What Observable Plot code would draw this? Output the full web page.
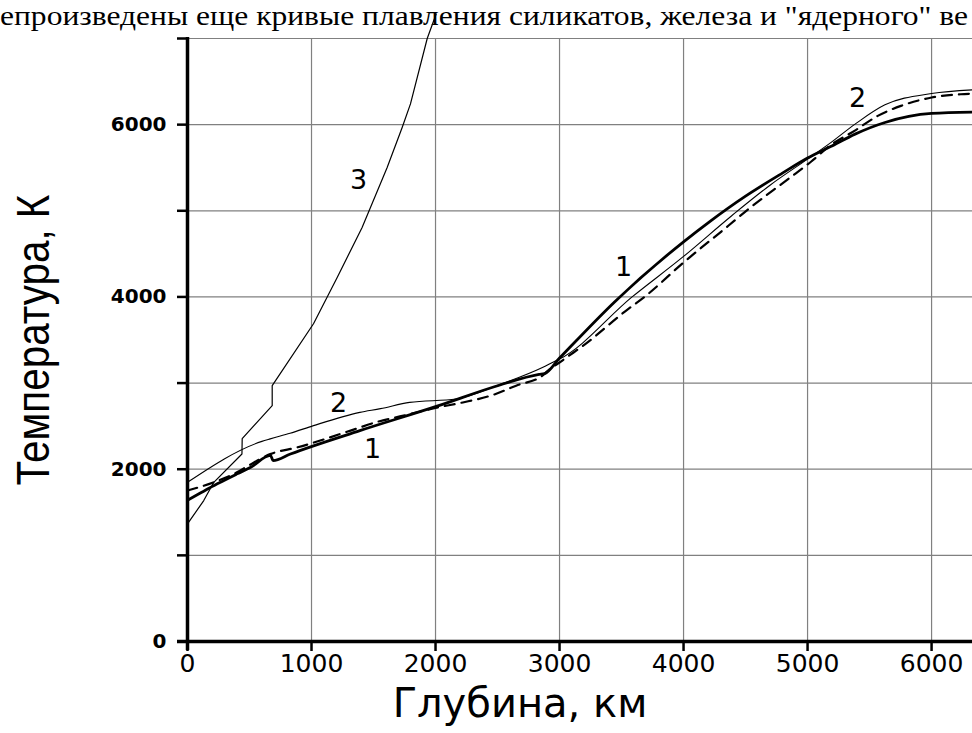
<!DOCTYPE html>
<html><head><meta charset="utf-8">
<script src="https://cdn.jsdelivr.net/npm/d3@7"></script>
<script src="https://cdn.jsdelivr.net/npm/@observablehq/plot@0.6"></script>
<style>
body{margin:0;background:#fff;}
#chart{width:972px;height:733px;overflow:hidden;}
</style></head><body><div id="chart"></div>
<script>
// Depth (km), temperature (K)
const curve1 = [[0,1640],[100,1720],[240,1830],[400,1946],[510,2023],[670,2160],[690,2100],[830,2177],[1390,2448],[2000,2726],[2514,2975],[2835,3100],[2880,3110],[3000,3290],[3450,3951],[4000,4640],[4214,4878],[4500,5170],[4800,5440],[5000,5612],[5182,5742],[5383,5890],[5624,6025],[6000,6130],[6330,6145]];
const curve2 = [[0,1848],[600,2323],[667,2352],[827,2417],[1016,2506],[1390,2660],[1556,2703],[1791,2776],[2166,2815],[2514,2981],[2862,3182],[2970,3260],[3000,3280],[3585,4000],[4000,4470],[4386,4940],[4700,5300],[5000,5600],[5190,5794],[5383,6006],[5624,6230],[6000,6361],[6330,6404]];
const curveDashed = [[0,1752],[212,1848],[399,1964],[493,2042],[667,2175],[887,2254],[1315,2448],[1523,2547],[1742,2622],[2000,2712],[2220,2775],[2462,2862],[2650,2970],[2862,3086],[2880,3110],[3040,3280],[3210,3455],[3532,3836],[3693,4010],[4000,4400],[4361,4826],[4506,5000],[4843,5368],[5030,5572],[5178,5754],[5378,5928],[5566,6102],[5753,6218],[6000,6315],[6235,6353],[6330,6360]];
const curve3 = [[0,1365],[131,1636],[212,1848],[439,2177],[441,2355],[573,2564],[683,2738],[683,2970],[1016,3689],[1207,4226],[1408,4806],[1610,5502],[1731,5966],[1798,6241],[1933,7000],[2005,7285]];
const curveLabels = [{t:"3",x:1379,y:5354},{t:"2",x:1218,y:2760},{t:"1",x:1492,y:2230},{t:"1",x:3516,y:4342},{t:"2",x:5403,y:6307}];
const xTicks = [0,1000,2000,3000,4000,5000,6000];
const yTicks = [0,1000,2000,3000,4000,5000,6000,7000];
const yLabelTicks = [0,2000,4000,6000];
const xTitle = "Глубина, км";
const yTitle = "Температура, К";
const topText = "епроизведены еще кривые плавления силикатов, железа и \"ядерного\" ве";

const toObj = a => a.map(([x,y]) => ({x,y}));

const plot = Plot.plot({
  width: 972, height: 733,
  marginTop: 38, marginBottom: 92, marginLeft: 187, marginRight: 0,
  x: {domain: [0, 6330]},
  y: {domain: [0, 7000]},
  style: {background: "white", overflow: "visible"},
  marks: [
    Plot.gridX(xTicks, {stroke: "#808080", strokeOpacity: 1, strokeWidth: 1.2}),
    Plot.gridY(yTicks, {stroke: "#808080", strokeOpacity: 1, strokeWidth: 1.2}),
    Plot.line(toObj(curve3), {x:"x", y:"y", stroke:"black", strokeWidth:1.2}),
    Plot.line(toObj(curveDashed), {x:"x", y:"y", stroke:"black", strokeWidth:2.2, strokeDasharray:"10,7", curve:"monotone-x"}),
    Plot.line(toObj(curve2), {x:"x", y:"y", stroke:"black", strokeWidth:1.1, curve:"monotone-x"}),
    Plot.line(toObj(curve1), {x:"x", y:"y", stroke:"black", strokeWidth:2.8, curve:"monotone-x"}),
    Plot.text(curveLabels, {x:"x", y:"y", text:"t", fontSize:27, fontFamily:"DejaVu Sans", fill:"black"}),
    Plot.axisY(yTicks, {tickSize:10, strokeWidth:2.5, tickFormat: () => "", label:null, color:"black"}),
    Plot.axisX(xTicks, {tickSize:10, strokeWidth:2.5, tickFormat: () => "", label:null, color:"black"}),
    Plot.text(yLabelTicks, {y: d => d, frameAnchor:"left", dx:-21, textAnchor:"end", text: d => String(d), fontSize:20, fontWeight:"bold", fontFamily:"DejaVu Sans", fill:"black"}),
    Plot.text(xTicks, {x: d => d, frameAnchor:"bottom", dy:13, lineAnchor:"top", text: d => String(d), fontSize:25, fontFamily:"DejaVu Sans", fill:"black"}),
    Plot.ruleX([0], {stroke:"black", strokeWidth:3.5, insetBottom:-9, insetTop:-1}),
    Plot.ruleY([0], {stroke:"black", strokeWidth:3.5, insetLeft:-10})
  ]
});

const svg = d3.select(plot);
svg.append("text").attr("x", 0).attr("y", 25).attr("text-anchor","start").attr("font-family", "Liberation Serif, Times New Roman, serif").attr("font-size", 28).attr("fill","black").attr("textLength", 968).attr("lengthAdjust","spacingAndGlyphs").text(topText);
svg.append("text").attr("x", 520).attr("y", 717).attr("text-anchor","middle").attr("font-family","DejaVu Sans").attr("font-size", 40).attr("fill","black").text(xTitle);
svg.append("text").attr("transform","translate(49,340) rotate(-90) scale(0.86,1)").attr("text-anchor","middle").attr("font-family","Liberation Sans, Arial").attr("font-size", 47).attr("fill","black").text(yTitle);

document.getElementById("chart").appendChild(plot);
</script></body></html>
